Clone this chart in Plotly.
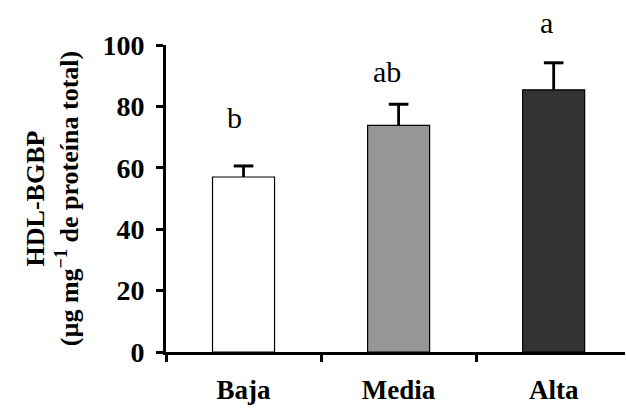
import plotly.graph_objects as go

# HDL-BGBP by intake level: means, upper SE, and significance letters
categories = ["Baja", "Media", "Alta"]
means = [57.0, 73.8, 85.4]
errors = [3.6, 6.9, 8.8]
letters = ["b", "ab", "a"]
bar_colors = ["#ffffff", "#969696", "#333333"]

FONT = "Liberation Serif, Times New Roman, serif"
tops = [m + e for m, e in zip(means, errors)]

fig = go.Figure()

fig.add_trace(go.Bar(
    x=categories, y=means, width=0.4,
    marker=dict(color=bar_colors, line=dict(color="black", width=1.2)),
    error_y=dict(type="data", symmetric=False, array=errors,
                 arrayminus=[0] * len(errors), color="black",
                 thickness=2.8, width=0),
    showlegend=False, hoverinfo="skip",
))

# caps on top of the upper error bars
fig.add_trace(go.Scatter(
    x=categories, y=tops, mode="markers",
    marker=dict(symbol="line-ew-open", size=14, color="black",
                line=dict(color="black", width=3)),
    showlegend=False, hoverinfo="skip", cliponaxis=False,
))

# significance letters above each bar
label_shift = [48, 33, 40]
label_xshift = [-9, -12, -7]
for cat, top, txt, dy, dx in zip(categories, tops, letters, label_shift, label_xshift):
    fig.add_annotation(
        x=cat, y=top, xref="x", yref="y", text=txt, showarrow=False,
        yshift=dy, xshift=dx, yanchor="middle",
        font=dict(family=FONT, size=30, color="black"),
    )

fig.update_layout(
    width=626, height=413,
    margin=dict(l=166, r=1, t=45, b=61),
    plot_bgcolor="white", paper_bgcolor="white",
    bargap=0.6,
    font=dict(family=FONT, color="black"),
)

fig.update_xaxes(
    type="category", range=[-0.5, 2.46],
    tickson="boundaries", ticks="outside", ticklen=7, tickwidth=2.5,
    tickcolor="black", showline=True, linecolor="black", linewidth=3,
    showgrid=False, zeroline=False,
    ticklabelstandoff=12,
    tickfont=dict(family=FONT, size=27, color="black", weight="bold"),
)

fig.update_yaxes(
    range=[0, 100], tickvals=[0, 20, 40, 60, 80, 100],
    ticks="outside", ticklen=7, tickwidth=2.5, tickcolor="black",
    showline=True, linecolor="black", linewidth=3,
    showgrid=False, zeroline=False,
    ticklabelstandoff=6,
    tickfont=dict(family=FONT, size=28, color="black", weight="bold"),
    title=dict(
        text="<b>HDL-BGBP</b><br><b>(µg mg<sup>−1</sup> de proteína total)</b>",
        font=dict(family=FONT, size=26, color="black"),
        standoff=17,
    ),
)

fig.write_html("out.html")
